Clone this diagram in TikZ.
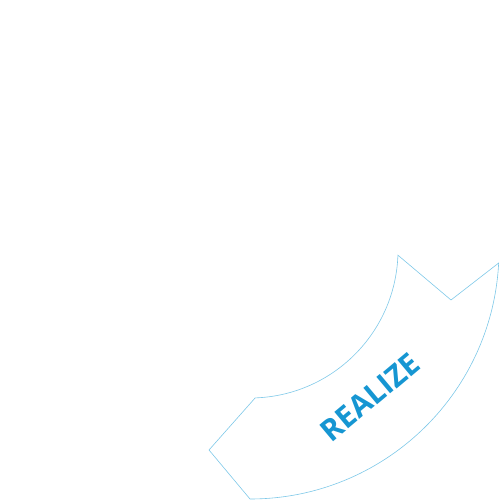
\documentclass[tikz,border=0pt]{standalone}
\usepackage{fontspec}
\setsansfont{Open Sans}
\usepackage{tikz}
\definecolor{arcline}{RGB}{126,200,232}
\definecolor{realizeblue}{RGB}{22,150,210}

\begin{document}
\begin{tikzpicture}[x=1pt,y=1pt]
\tikzstyle{every node}+=[inner sep=0pt]
\useasboundingbox (0,0) rectangle (500,500);
\coordinate (c) at (250,250);
% arrow segment of the cycle
\draw [arcline, line width=0.6pt] ([shift={(c)}]-2:148) arc (-2:-88:148)
  -- (209,50) -- ([shift={(c)}]-90:249) arc (-90:-3:249)
  -- (451,200) -- cycle;
\node (realize) [realizeblue, rotate=40, font=\sffamily\bfseries\fontsize{30}{30}\selectfont] at (370,103) {REALIZE};
\end{tikzpicture}
\end{document}
